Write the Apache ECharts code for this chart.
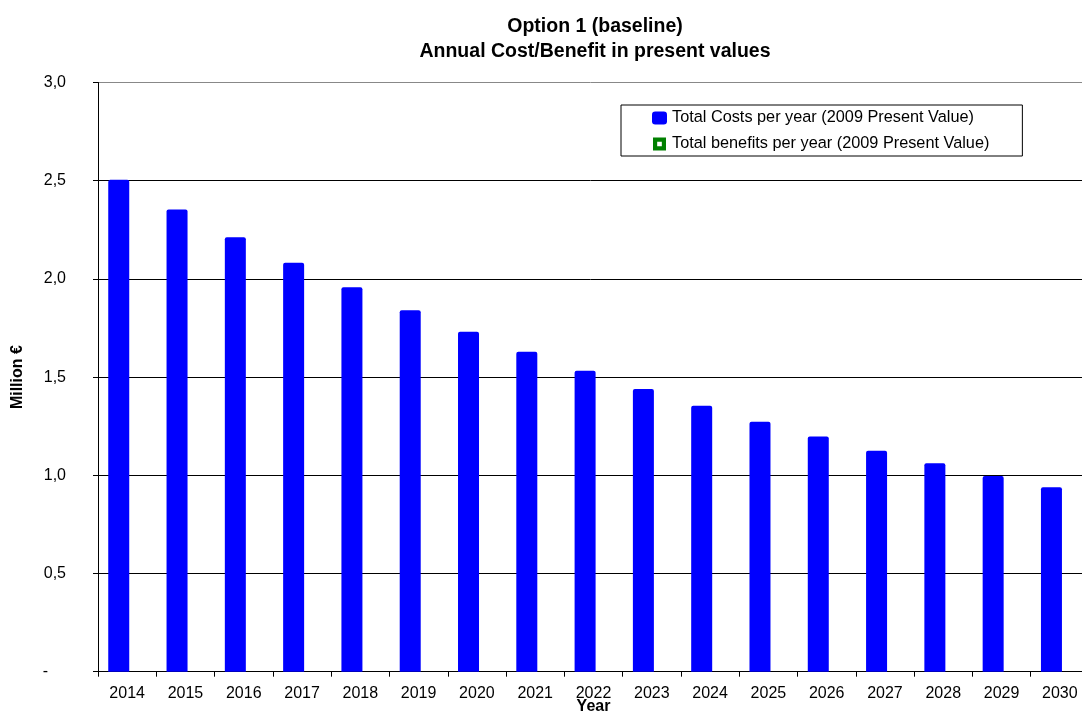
<!DOCTYPE html>
<html>
<head>
<meta charset="utf-8">
<title>Option 1 (baseline) - Annual Cost/Benefit in present values</title>
<script src="https://cdn.jsdelivr.net/npm/echarts@6/dist/echarts.min.js"></script>
<style>
  html, body { margin: 0; padding: 0; background: #ffffff; }
  #chart { width: 1082px; height: 711px; }
</style>
</head>
<body>
<div id="chart"></div>
<script>
// Years on the category axis
var years = ['2014', '2015', '2016', '2017', '2018', '2019', '2020', '2021', '2022',
             '2023', '2024', '2025', '2026', '2027', '2028', '2029', '2030'];

// Total costs per year, million €, 2009 present value
var totalCosts = [2.505, 2.353, 2.212, 2.082, 1.957, 1.841, 1.731, 1.629, 1.532,
                  1.439, 1.354, 1.273, 1.198, 1.125, 1.061, 0.996, 0.939];

// Total benefits per year, million €, 2009 present value
var totalBenefits = [0, 0, 0, 0, 0, 0, 0, 0, 0, 0, 0, 0, 0, 0, 0, 0, 0];

// Value axis ticks (million €)
var yTicks = [0, 0.5, 1.0, 1.5, 2.0, 2.5, 3.0];

var costsName = 'Total Costs per year (2009 Present Value)';
var benefitsName = 'Total benefits per year (2009 Present Value)';

var FONT = "'Liberation Sans', Arial, sans-serif";

var chart = echarts.init(document.getElementById('chart'), null, { renderer: 'canvas' });

chart.setOption({
  backgroundColor: '#ffffff',
  animation: false,
  textStyle: { fontFamily: FONT, color: '#000' },
  title: {
    text: 'Option 1 (baseline)\nAnnual Cost/Benefit in present values',
    left: 590,
    top: 9,
    textAlign: 'center',
    textStyle: {
      fontFamily: FONT,
      fontSize: 19.5,
      fontWeight: 'bold',
      lineHeight: 25,
      color: '#000'
    }
  },
  legend: {
    orient: 'vertical',
    left: 621,
    top: 105,
    padding: [5, 33, 4, 31],
    itemGap: 10,
    itemWidth: 15,
    itemHeight: 13,
    borderColor: '#000',
    borderWidth: 1,
    backgroundColor: '#ffffff',
    textStyle: { fontFamily: FONT, fontSize: 16.3, color: '#000' },
    data: [
      { name: costsName, icon: 'roundRect', itemStyle: { color: '#0000ff' } },
      {
        name: benefitsName,
        // green frame with a white centre
        icon: 'path://M0,0H14V14H0Z M4.5,4.5V9.5H9.5V4.5Z',
        itemStyle: { color: '#008000' }
      }
    ]
  },
  grid: {
    left: 98,
    top: 82.5,
    right: -7,
    bottom: 39.3,
    containLabel: false,
    outerBoundsMode: 'none'
  },
  xAxis: {
    type: 'category',
    data: years,
    name: 'Year',
    nameLocation: 'middle',
    nameGap: 27,
    nameMoveOverlap: false,
    nameTextStyle: { fontFamily: FONT, fontSize: 16, fontWeight: 'bold', color: '#000' },
    axisLine: { lineStyle: { color: '#000', width: 1 } },
    axisTick: { show: true, length: 5, inside: false, lineStyle: { color: '#000' } },
    axisLabel: { interval: 0, margin: 14, fontFamily: FONT, fontSize: 16, color: '#000' },
    splitLine: { show: false }
  },
  yAxis: {
    type: 'value',
    min: yTicks[0],
    max: yTicks[yTicks.length - 1],
    interval: 0.5,
    name: 'Million €',
    nameLocation: 'middle',
    nameGap: 72,
    nameMoveOverlap: false,
    nameTextStyle: { fontFamily: FONT, fontSize: 16, fontWeight: 'bold', color: '#000' },
    axisLine: { show: true, lineStyle: { color: '#000', width: 1 } },
    axisTick: { show: true, length: 5, inside: false, lineStyle: { color: '#000' } },
    axisLabel: {
      margin: 32,
      fontFamily: FONT,
      fontSize: 16,
      color: '#000',
      formatter: function (v) {
        if (v === 0) return '{z|-}';
        return v.toFixed(1).replace('.', ',');
      },
      rich: {
        z: { fontFamily: FONT, fontSize: 16, color: '#000', padding: [0, 18, 0, 0] }
      }
    },
    splitLine: {
      show: true,
      lineStyle: {
        color: ['#000', '#000', '#000', '#000', '#000', '#000', '#888'],
        width: 1
      }
    }
  },
  series: [
    {
      name: costsName,
      type: 'bar',
      data: totalCosts,
      barWidth: 21,
      barGap: '-20%',
      itemStyle: { color: '#0000ff', borderRadius: [2, 2, 0, 0] }
    },
    {
      name: benefitsName,
      type: 'bar',
      data: totalBenefits,
      barWidth: 21,
      barGap: '-20%',
      itemStyle: { color: '#008000' }
    }
  ]
});
</script>
</body>
</html>
